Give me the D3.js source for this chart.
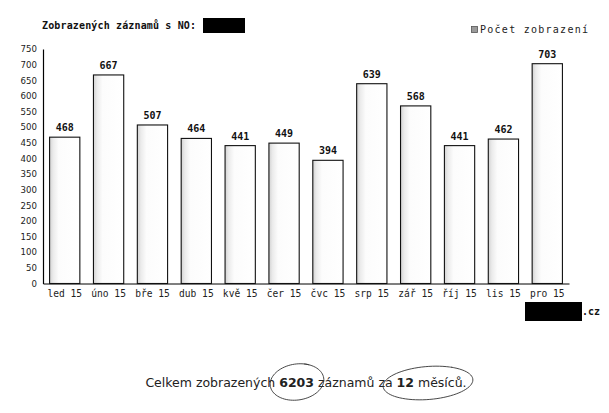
<!DOCTYPE html>
<html>
<head>
<meta charset="utf-8">
<script src="https://cdn.jsdelivr.net/npm/d3@7"></script>
<style>
  html, body { margin: 0; padding: 0; background: #fff; }
  svg { display: block; }
</style>
</head>
<body>
<svg id="chart" width="609" height="413"></svg>
<script>
// Monthly view counts
const months = ["led 15", "úno 15", "bře 15", "dub 15", "kvě 15", "čer 15",
                "čvc 15", "srp 15", "zář 15", "říj 15", "lis 15", "pro 15"];
const views = [468, 667, 507, 464, 441, 449, 394, 639, 568, 441, 462, 703];
const yTicks = [0, 50, 100, 150, 200, 250, 300, 350, 400, 450, 500, 550, 600, 650, 700, 750];
const titleText = "Zobrazených záznamů s NO:";
const legendText = "Počet zobrazení";

const svg = d3.select("#chart");

const x = d3.scaleBand().domain(months).range([43, 569]).paddingInner(0.31).paddingOuter(0.15);
const y = d3.scaleLinear().domain([0, 750]).range([283.5, 49]);

// bar shading: light grey grain along the left edge
const defs = svg.append("defs");
const grad = defs.append("linearGradient").attr("id", "shade").attr("x1", 0).attr("x2", 1);
grad.append("stop").attr("offset", "0%").attr("stop-color", "#d2d2d2");
grad.append("stop").attr("offset", "12%").attr("stop-color", "#ebebeb");
grad.append("stop").attr("offset", "30%").attr("stop-color", "#fcfcfc");
grad.append("stop").attr("offset", "100%").attr("stop-color", "#ffffff");

// title
svg.append("text").attr("x", 42).attr("y", 28.5)
  .attr("font-family", "DejaVu Sans Mono").attr("font-weight", "bold").attr("font-size", 10)
  .attr("textLength", 154).attr("fill", "#111").text(titleText);
svg.append("rect").attr("x", 203).attr("y", 18).attr("width", 42).attr("height", 15).attr("fill", "#000");

// legend
svg.append("rect").attr("x", 471.5).attr("y", 26.5).attr("width", 6).attr("height", 6)
  .attr("fill", "#9a9a9a").attr("stroke", "#555").attr("stroke-width", 0.8);
svg.append("text").attr("x", 480).attr("y", 33)
  .attr("font-family", "DejaVu Sans Mono").attr("font-size", 10)
  .attr("textLength", 108).attr("fill", "#222").text(legendText);

// y axis
const yAxis = d3.axisLeft(y).tickValues(yTicks).tickSize(0).tickPadding(6);
const gy = svg.append("g").attr("transform", "translate(43,0)").call(yAxis);
gy.select(".domain").attr("stroke", "#000").attr("stroke-width", 1.2);
gy.selectAll("text").attr("font-family", "DejaVu Sans").attr("font-size", 8.6).attr("fill", "#222");

// x axis
const xAxis = d3.axisBottom(x).tickSize(0).tickPadding(7);
const gx = svg.append("g").attr("transform", "translate(0,283.5)").call(xAxis);
gx.select(".domain").attr("stroke", "#000").attr("stroke-width", 1.2);
gx.selectAll("text").attr("font-family", "DejaVu Sans Mono").attr("font-size", 9.6).attr("fill", "#222");

// bars
svg.append("g").selectAll("rect").data(views).join("rect")
  .attr("x", (d, i) => x(months[i]))
  .attr("y", d => y(d))
  .attr("width", x.bandwidth())
  .attr("height", d => y(0) - y(d))
  .attr("fill", "url(#shade)")
  .attr("stroke", "#111")
  .attr("stroke-width", 1.1);

// value labels
svg.append("g").selectAll("text").data(views).join("text")
  .attr("x", (d, i) => x(months[i]) + x.bandwidth() / 2)
  .attr("y", d => y(d) - 6)
  .attr("text-anchor", "middle")
  .attr("font-family", "DejaVu Sans Mono").attr("font-weight", "bold").attr("font-size", 10)
  .attr("fill", "#111")
  .text(d => d);

// footer domain
svg.append("rect").attr("x", 525).attr("y", 302).attr("width", 57).attr("height", 19).attr("fill", "#000");
svg.append("text").attr("x", 582).attr("y", 315)
  .attr("font-family", "DejaVu Sans Mono").attr("font-weight", "bold").attr("font-size", 10)
  .attr("fill", "#111").text(".cz");

// summary line
const total = d3.sum(views);
const summary = svg.append("text").attr("x", 306).attr("y", 387).attr("text-anchor", "middle")
  .attr("font-family", "DejaVu Sans").attr("font-size", 12.5).attr("fill", "#222");
summary.append("tspan").text("Celkem zobrazených ");
summary.append("tspan").attr("font-weight", "bold").text(total);
summary.append("tspan").text(" záznamů za ");
summary.append("tspan").attr("font-weight", "bold").text(months.length);
summary.append("tspan").text(" měsíců.");

// pen loops around the figures
const loop = (cx, cy, rx, ry, rot, a0, a1) => {
  const pts = d3.range(a0, a1, 0.08).map(a => {
    const px = rx * Math.cos(a), py = ry * Math.sin(a);
    const c = Math.cos(rot), s = Math.sin(rot);
    return [cx + px * c - py * s, cy + px * s + py * c];
  });
  return d3.line().curve(d3.curveCatmullRom)(pts);
};
svg.append("path").attr("d", loop(297, 382, 27, 18, -0.15, -1.2, 5.3))
  .attr("fill", "none").attr("stroke", "#333").attr("stroke-width", 0.9);
svg.append("path").attr("d", loop(428, 383, 45, 16.5, -0.08, -1.0, 5.4))
  .attr("fill", "none").attr("stroke", "#333").attr("stroke-width", 0.9);
</script>
</body>
</html>
